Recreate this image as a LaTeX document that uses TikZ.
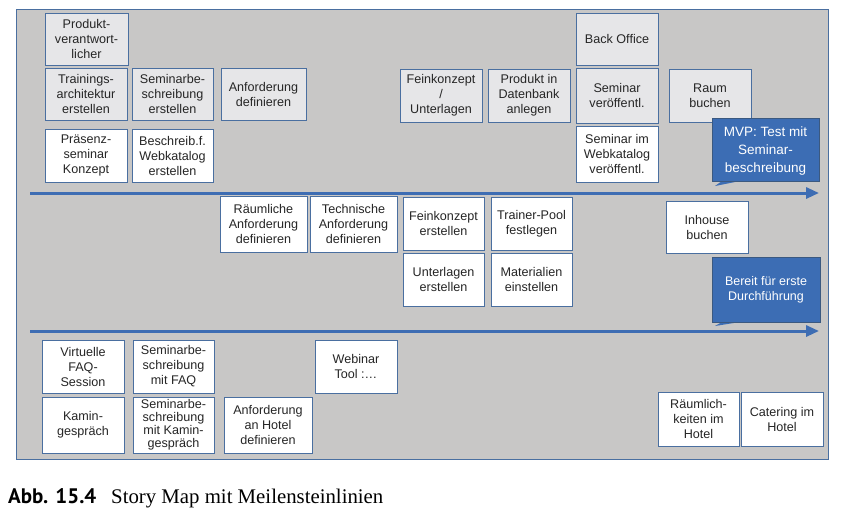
\documentclass[tikz,border=0pt]{standalone}
\usepackage{fontspec}
\setmainfont{Liberation Sans}
\newfontfamily\capserif{Liberation Serif}
\newfontfamily\capsans{PT Sans}
\usetikzlibrary{arrows.meta}
\definecolor{bggray}{HTML}{C8C7C6}
\definecolor{lightbox}{HTML}{E6E6E8}
\definecolor{edgeblue}{HTML}{4A6FA0}
\definecolor{calloutblue}{HTML}{3C6DB4}
\definecolor{arrowblue}{HTML}{3E6DB3}
\tikzset{
  card/.style={draw=edgeblue, line width=0.9pt, align=center, inner sep=1pt,
    font=\fontsize{12.6}{15}\selectfont, text=black!85},
  graycard/.style={card, fill=lightbox},
  whitecard/.style={card, fill=white},
  callouttext/.style={align=center, text=white, inner sep=0pt},
  milestone/.style={draw=arrowblue, line width=3pt, -{Triangle[length=13pt,width=11pt]}},
}
\begin{document}
\begin{tikzpicture}[x=1pt,y=-1pt]
\useasboundingbox (0,0) rectangle (842,515);
% frame
\draw[fill=bggray, draw=edgeblue, line width=1pt] (16,9) rectangle (828,459);
% row 1
\node[graycard, minimum width=83pt, minimum height=52pt] (pv) at (86.5,39) {Produkt-\\verantwort-\\licher};
\node[graycard, minimum width=82pt, minimum height=52pt] (ta) at (86,94) {Trainings-\\architektur\\erstellen};
\node[graycard, minimum width=81pt, minimum height=52pt] (sb) at (172.5,94) {Seminarbe-\\schreibung\\erstellen};
\node[graycard, minimum width=85pt, minimum height=52pt] (ad) at (263.5,94) {Anforderung\\definieren};
\node[whitecard, minimum width=82pt, minimum height=53pt] (pk) at (86,155.5) {Präsenz-\\seminar\\Konzept};
\node[whitecard, minimum width=81pt, minimum height=53pt] (bw) at (172.5,155.5) {Beschreib.f.\\Webkatalog\\erstellen};
\node[graycard, minimum width=82pt, minimum height=53pt] (fu) at (441,95.5) {Feinkonzept\\/\\Unterlagen};
\node[graycard, minimum width=82pt, minimum height=53pt] (pd) at (529,95.5) {Produkt in\\Datenbank\\anlegen};
\node[graycard, minimum width=82pt, minimum height=52pt] (bo) at (617,39) {Back Office};
\node[graycard, minimum width=82pt, minimum height=55pt] (sv) at (617,95.5) {Seminar\\veröffentl.};
\node[whitecard, minimum width=82pt, minimum height=56pt] (sw) at (617,154) {Seminar im\\Webkatalog\\veröffentl.};
\node[graycard, minimum width=82pt, minimum height=53pt] (rb) at (710,95.5) {Raum\\buchen};
% MVP callout
\fill[calloutblue] (712,118) -- (819,118) -- (819,181) -- (740,181) -- (715,186) -- (722,181) -- (712,181) -- cycle;
\draw[edgeblue!80!black, line width=0.6pt] (712,118) rectangle (819,181);
\node[callouttext, font=\fontsize{13.5}{18}\selectfont] (mvp) at (765.5,151) {MVP: Test mit\\Seminar-\\beschreibung};
% milestone 1
\coordinate (m1s) at (30,193);
\coordinate (m1e) at (819,193);
\draw[milestone] (m1s) -- (m1e);
% row 2
\node[whitecard, minimum width=87pt, minimum height=56pt] (ra) at (263.5,224) {Räumliche\\Anforderung\\definieren};
\node[whitecard, minimum width=87pt, minimum height=56pt] (tan) at (353.5,224) {Technische\\Anforderung\\definieren};
\node[whitecard, minimum width=81pt, minimum height=53pt] (fe) at (443.5,223.5) {Feinkonzept\\erstellen};
\node[whitecard, minimum width=81pt, minimum height=53pt] (tp) at (531.5,223.5) {Trainer-Pool\\festlegen};
\node[whitecard, minimum width=81pt, minimum height=53pt] (ue) at (443.5,279.5) {Unterlagen\\erstellen};
\node[whitecard, minimum width=81pt, minimum height=53pt] (me) at (531.5,279.5) {Materialien\\einstellen};
\node[whitecard, minimum width=82pt, minimum height=52pt] (ib) at (707,227) {Inhouse\\buchen};
% Bereit callout
\fill[calloutblue] (712,257) -- (820,257) -- (820,322) -- (740,322) -- (715,326) -- (722,322) -- (712,322) -- cycle;
\draw[edgeblue!80!black, line width=0.6pt] (712,257) rectangle (820,322);
\node[callouttext, font=\fontsize{12.5}{15}\selectfont] (bd) at (766,290) {Bereit für erste\\Durchführung};
% milestone 2
\coordinate (m2s) at (30,331);
\coordinate (m2e) at (819,331);
\draw[milestone] (m2s) -- (m2e);
% row 3
\node[whitecard, minimum width=82pt, minimum height=53pt] (vf) at (83,366.5) {Virtuelle\\FAQ-\\Session};
\node[whitecard, minimum width=81pt, minimum height=53pt] (sf) at (173.5,366.5) {Seminarbe-\\schreibung\\mit FAQ};
\node[whitecard, minimum width=82pt, minimum height=53pt] (wt) at (356,366.5) {Webinar\\Tool :\dots};
\node[whitecard, minimum width=82pt, minimum height=56pt] (kg) at (83,425) {Kamin-\\gespräch};
\node[whitecard, minimum width=81pt, minimum height=56pt, font=\fontsize{12.6}{13}\selectfont] (sk) at (173.5,425) {Seminarbe-\\schreibung\\mit Kamin-\\gespräch};
\node[whitecard, minimum width=88pt, minimum height=56pt] (ah) at (268,425) {Anforderung\\an Hotel\\definieren};
\node[whitecard, minimum width=81pt, minimum height=54pt] (rh) at (698.5,419) {Räumlich-\\keiten im\\Hotel};
\node[whitecard, minimum width=82pt, minimum height=54pt] (ch) at (782,419) {Catering im\\Hotel};
% caption
\node[anchor=base west, inner sep=0pt, font=\capsans\bfseries\fontsize{21}{24}\selectfont] (capa) at (8,503) {Abb. 15.4};
\node[anchor=base west, inner sep=0pt, font=\capserif\fontsize{20.8}{24}\selectfont] (capb) at (111,503) {Story Map mit Meilensteinlinien};
\end{tikzpicture}
\end{document}
